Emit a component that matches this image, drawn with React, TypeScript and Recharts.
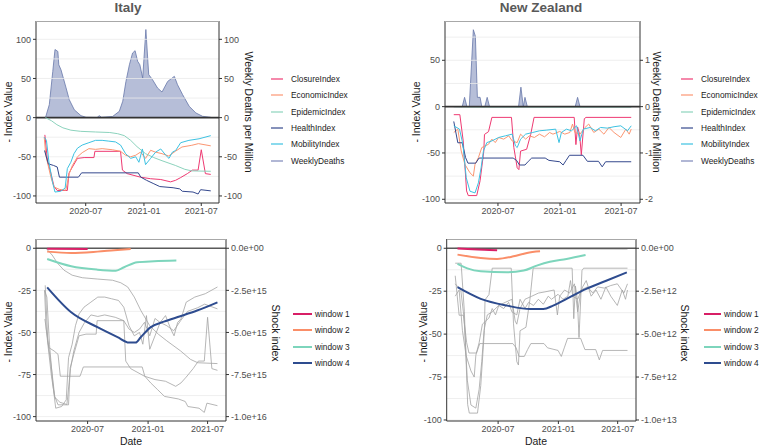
import React from "react";
import { ComposedChart, Line, Area, XAxis, YAxis, ReferenceLine } from "recharts";

type Pt = [string, number];

// ---- Italy indices (Index Value) ----
const itClosure: Pt[] = [
  ["2020-02-23", -22], ["2020-03-02", -55], ["2020-03-13", -71], ["2020-03-23", -88], ["2020-04-02", -93],
  ["2020-05-04", -93], ["2020-05-09", -71], ["2020-05-20", -63], ["2020-06-05", -52], ["2020-06-26", -51],
  ["2020-07-27", -51], ["2020-07-30", -43], ["2020-10-19", -43], ["2020-10-25", -67], ["2020-11-09", -71.5],
  ["2020-12-21", -76], ["2021-01-22", -78], ["2021-02-23", -79], ["2021-03-26", -82], ["2021-04-11", -80],
  ["2021-04-27", -76.5], ["2021-05-18", -71.5], ["2021-06-03", -67], ["2021-06-21", -67], ["2021-07-01", -41],
  ["2021-07-14", -71.5], ["2021-07-31", -72.5],
];
const itEconomic: Pt[] = [
  ["2020-02-21", -25], ["2020-02-26", -48], ["2020-03-13", -76], ["2020-03-23", -88.5], ["2020-04-08", -91.5],
  ["2020-04-29", -92.8], ["2020-05-10", -71.5], ["2020-05-20", -61], ["2020-06-05", -50], ["2020-06-20", -44.7],
  ["2020-07-11", -39.6], ["2020-08-01", -40.5], ["2020-08-22", -39.6], ["2020-09-23", -41], ["2020-10-19", -43],
  ["2020-11-04", -48], ["2020-11-20", -50], ["2020-12-06", -48], ["2020-12-21", -44], ["2021-01-06", -52],
  ["2021-01-22", -41.7], ["2021-02-06", -44], ["2021-02-27", -46], ["2021-03-20", -49], ["2021-04-10", -43],
  ["2021-05-01", -37.5], ["2021-06-01", -35.3], ["2021-06-22", -33.2], ["2021-07-31", -36],
];
const itEpidemic: Pt[] = [
  ["2020-02-25", 0], ["2020-03-15", -4], ["2020-04-01", -9], ["2020-04-20", -13], ["2020-05-15", -16],
  ["2020-06-15", -17.5], ["2020-08-01", -18.3], ["2020-09-15", -19], ["2020-10-10", -20.5], ["2020-10-31", -23],
  ["2020-11-20", -29], ["2020-12-10", -37], ["2021-01-06", -46], ["2021-02-01", -51], ["2021-02-27", -55],
  ["2021-04-10", -61], ["2021-05-10", -66], ["2021-06-01", -68], ["2021-07-31", -68.5],
];
const itHealth: Pt[] = [
  ["2020-02-22", -42], ["2020-03-05", -59], ["2020-03-21", -61], ["2020-04-02", -63], ["2020-04-09", -76],
  ["2020-06-08", -76], ["2020-06-18", -70.5], ["2020-12-14", -70.5], ["2020-12-22", -76], ["2021-01-09", -80],
  ["2021-01-30", -84], ["2021-02-20", -88], ["2021-04-03", -89.5], ["2021-04-24", -91], ["2021-05-02", -94],
  ["2021-06-05", -95], ["2021-06-21", -97.5], ["2021-06-29", -92], ["2021-07-31", -93.5],
];
const itMobility: Pt[] = [
  ["2020-02-21", -25], ["2020-02-28", -29], ["2020-03-07", -57], ["2020-03-18", -82], ["2020-03-26", -95],
  ["2020-04-13", -94], ["2020-04-27", -90], ["2020-05-04", -65], ["2020-05-15", -57], ["2020-05-25", -46],
  ["2020-06-05", -39], ["2020-06-20", -35], ["2020-07-11", -32], ["2020-08-01", -29], ["2020-08-22", -29],
  ["2020-09-12", -30], ["2020-10-03", -31], ["2020-10-19", -35], ["2020-11-04", -46], ["2020-11-20", -52],
  ["2020-12-06", -50], ["2020-12-16", -57], ["2020-12-27", -40], ["2021-01-06", -60], ["2021-01-22", -52],
  ["2021-02-07", -44], ["2021-02-23", -40], ["2021-03-11", -48], ["2021-03-21", -52], ["2021-04-01", -44],
  ["2021-04-11", -42], ["2021-04-27", -32], ["2021-05-23", -29], ["2021-06-24", -27], ["2021-07-31", -23],
];
// weekly deaths per million
const itDeaths: Pt[] = [
  ["2020-02-25", 0], ["2020-03-08", 16.6], ["2020-03-19", 59], ["2020-03-26", 87], ["2020-04-04", 84.5],
  ["2020-04-07", 67.5], ["2020-04-14", 61], ["2020-04-30", 38], ["2020-05-10", 23], ["2020-05-26", 10],
  ["2020-06-16", 2.5], ["2020-07-02", 0.5], ["2020-08-06", 0.3], ["2020-08-13", 2.5], ["2020-08-20", 0.5],
  ["2020-09-24", 1.5], ["2020-10-15", 8], ["2020-10-26", 21], ["2020-11-05", 46], ["2020-11-16", 67.5],
  ["2020-11-26", 82.5], ["2020-12-04", 85.5], ["2020-12-12", 72], ["2020-12-19", 67.5], ["2020-12-28", 50.5],
  ["2021-01-07", 112.5], ["2021-01-16", 55], ["2021-01-28", 48.5], ["2021-02-13", 37.8], ["2021-02-27", 32.7],
  ["2021-03-17", 46.3], ["2021-04-07", 52.7], ["2021-04-17", 42], ["2021-05-03", 29.4], ["2021-05-24", 14.4],
  ["2021-06-14", 6], ["2021-07-05", 1.7], ["2021-07-31", 0.4],
];

// ---- New Zealand indices ----
const nzClosure: Pt[] = [
  ["2020-02-21", -8.7], ["2020-03-10", -8.7], ["2020-03-20", -37], ["2020-03-30", -91], ["2020-04-04", -96],
  ["2020-04-29", -96], ["2020-05-09", -80], ["2020-05-20", -48], ["2020-05-22", -30], ["2020-06-03", -27],
  ["2020-06-13", -11.6], ["2020-08-10", -11.6], ["2020-08-17", -44], ["2020-08-27", -66], ["2020-09-01", -68],
  ["2020-09-06", -48], ["2020-09-24", -46], ["2020-10-06", -30], ["2020-10-16", -11.6], ["2021-02-12", -11.6],
  ["2021-02-17", -41], ["2021-02-22", -22], ["2021-02-28", -30], ["2021-03-05", -52], ["2021-03-14", -13],
  ["2021-03-19", -11.6], ["2021-07-31", -11.6],
];
const nzEconomic: Pt[] = [
  ["2020-02-21", -27.9], ["2020-03-04", -24.3], ["2020-03-14", -47.8], ["2020-03-25", -62.3], ["2020-04-09", -71.4],
  ["2020-04-19", -75], ["2020-04-24", -62.3], ["2020-05-04", -55], ["2020-05-14", -44.2], ["2020-05-24", -42.4],
  ["2020-06-03", -40.6], ["2020-06-13", -35.1], ["2020-06-23", -38.8], ["2020-07-03", -33.3], ["2020-07-18", -35.1],
  ["2020-08-02", -31.5], ["2020-08-12", -37], ["2020-08-27", -38.8], ["2020-09-06", -29.7], ["2020-09-21", -35.1],
  ["2020-10-02", -31.5], ["2020-10-17", -33.3], ["2020-11-01", -29.7], ["2020-11-16", -32.6], ["2020-12-01", -27.9],
  ["2020-12-11", -29.7], ["2020-12-31", -26.8], ["2021-01-15", -29.7], ["2021-01-30", -27.9], ["2021-02-07", -18.8],
  ["2021-02-14", -27.9], ["2021-03-01", -29.7], ["2021-03-16", -22.5], ["2021-03-27", -18.8], ["2021-04-11", -27.9],
  ["2021-04-26", -24.3], ["2021-05-11", -29.7], ["2021-05-26", -22.5], ["2021-06-10", -27.9], ["2021-06-30", -33.3],
  ["2021-07-15", -24.3], ["2021-07-25", -29.7], ["2021-07-31", -24.3],
];
const nzEpidemic: Pt[] = [
  ["2020-02-21", 0], ["2020-04-15", -0.4], ["2021-07-31", -0.5],
];
const nzHealth: Pt[] = [
  ["2020-02-21", -16], ["2020-03-04", -39], ["2020-03-17", -39], ["2020-03-27", -55], ["2020-04-03", -61],
  ["2020-04-26", -61], ["2020-05-06", -55.5], ["2020-08-15", -55.5], ["2020-08-25", -58], ["2020-09-03", -63],
  ["2020-09-19", -63], ["2020-09-29", -59], ["2020-10-09", -55.5], ["2020-11-18", -55.5], ["2020-11-29", -58],
  ["2020-12-31", -59.5], ["2021-01-10", -63], ["2021-01-19", -58], ["2021-01-29", -52.5], ["2021-03-10", -52.5],
  ["2021-03-23", -59], ["2021-04-25", -59], ["2021-05-06", -65], ["2021-05-16", -59.5], ["2021-07-31", -59.5],
];
const nzMobility: Pt[] = [
  ["2020-02-21", -20.7], ["2020-03-09", -24.3], ["2020-03-19", -40.6], ["2020-03-29", -76.8], ["2020-04-09", -91.3],
  ["2020-04-24", -93.1], ["2020-05-04", -82.2], ["2020-05-12", -66], ["2020-05-19", -47.8], ["2020-05-29", -38.8],
  ["2020-06-13", -37], ["2020-07-03", -33.3], ["2020-07-23", -31.5], ["2020-08-12", -29.7], ["2020-08-22", -42.4],
  ["2020-08-27", -44.2], ["2020-09-06", -35.1], ["2020-09-21", -29.7], ["2020-10-12", -27.9], ["2020-11-01", -26.1],
  ["2020-11-21", -25.4], ["2020-12-19", -24.3], ["2020-12-29", -38.8], ["2021-01-05", -27.9], ["2021-01-20", -24.3],
  ["2021-02-04", -26.1], ["2021-02-19", -20.7], ["2021-03-01", -37], ["2021-03-11", -24.3], ["2021-03-31", -22.5],
  ["2021-04-16", -26.1], ["2021-05-01", -22.5], ["2021-05-21", -23.2], ["2021-06-10", -21.7], ["2021-06-30", -20.7],
  ["2021-07-20", -26.1], ["2021-07-31", -20.7],
];
const nzDeaths: Pt[] = [
  ["2020-02-21", 0], ["2020-03-17", 0], ["2020-03-24", 0.2], ["2020-03-31", 0], ["2020-04-07", 0],
  ["2020-04-19", 1.66], ["2020-04-25", 1.52], ["2020-05-01", 0.2], ["2020-05-09", 0.2], ["2020-05-14", 0],
  ["2020-05-23", 0], ["2020-05-30", 0.2], ["2020-06-06", 0], ["2020-08-31", 0], ["2020-09-07", 0.42],
  ["2020-09-14", 0], ["2020-09-19", 0.2], ["2020-09-26", 0], ["2021-02-15", 0], ["2021-02-22", 0.2],
  ["2021-03-01", 0], ["2021-07-31", 0],
];

// ---- Shock index windows ----
const itWin1: Pt[] = [["2020-02-29", -3e13], ["2020-07-01", -4e13]];
const itWin2: Pt[] = [["2020-02-29", -2.0e14], ["2020-05-12", -2.8e14], ["2020-07-31", -2.0e14], ["2020-09-20", -1.2e14], ["2020-11-09", -0.5e14]];
const itWin3: Pt[] = [
  ["2020-02-29", -0.64e15], ["2020-05-12", -1.07e15], ["2020-07-31", -1.27e15], ["2020-09-25", -1.33e15],
  ["2020-10-20", -1.13e15], ["2020-11-29", -0.83e15], ["2021-01-19", -0.77e15], ["2021-03-28", -0.73e15],
];
const itWin4: Pt[] = [
  ["2020-02-29", -2.32e15], ["2020-05-12", -3.8e15], ["2020-07-31", -4.69e15], ["2020-09-30", -5.28e15],
  ["2020-11-04", -5.6e15], ["2020-11-24", -5.6e15], ["2020-12-09", -5.3e15], ["2021-01-08", -4.7e15],
  ["2021-02-18", -4.36e15], ["2021-04-09", -4.04e15], ["2021-05-30", -3.7e15], ["2021-07-31", -3.21e15],
];
const nzWin1: Pt[] = [["2020-02-28", -1e10], ["2020-04-15", -5e10], ["2020-05-20", -9e10], ["2020-06-28", -1.2e11]];
const nzWin2: Pt[] = [["2020-02-28", -3.7e11], ["2020-05-09", -5.7e11], ["2020-06-28", -6.2e11], ["2020-08-17", -4.7e11], ["2020-09-27", -2.7e11], ["2020-11-06", -1.8e11]];
const nzWin3: Pt[] = [
  ["2020-02-28", -9.1e11], ["2020-03-29", -11.7e11], ["2020-05-09", -13.4e11], ["2020-07-28", -14e11],
  ["2020-09-17", -13e11], ["2020-10-27", -10.1e11], ["2020-12-06", -7.8e11], ["2021-01-26", -6.2e11], ["2021-03-25", -3.9e11],
];
const nzWin4: Pt[] = [
  ["2020-02-28", -2.27e12], ["2020-05-09", -2.95e12], ["2020-07-28", -3.34e12], ["2020-10-07", -3.54e12],
  ["2020-11-16", -3.54e12], ["2020-12-16", -3.34e12], ["2021-01-26", -2.95e12], ["2021-03-27", -2.37e12],
  ["2021-05-27", -1.89e12], ["2021-07-29", -1.4e12],
];

const indexNames = ["ClosureIndex", "EconomicIndex", "EpidemicIndex", "HealthIndex", "MobilityIndex", "WeeklyDeaths"];
const indexColors = ["#EE3A72", "#FB9672", "#8CD3BD", "#34488D", "#3DC2E2", "#7E88BA"];
const windowNames = ["window 1", "window 2", "window 3", "window 4"];
const windowColors = ["#D81F66", "#FA8E68", "#7DD5BC", "#2E4C8F"];
const dateTicks = ["2020-07-01", "2021-01-01", "2021-07-01"];

const FONT = '"Liberation Sans", Arial, Helvetica, sans-serif';
const TICK = { fontSize: 9, fill: "#4d4d4d", fontFamily: FONT };
const X_DOMAIN = [Date.parse("2020-01-26"), Date.parse("2021-08-26")];
const LEFT_W = 36;
const X_H = 20;

const pts = (s: Pt[]) => s.map(([d, v]) => ({ t: Date.parse(d), v }));
const fmtDate = (v: number) => {
  const d = new Date(v);
  return `${d.getUTCFullYear()}-${String(d.getUTCMonth() + 1).padStart(2, "0")}`;
};
const sci = (v: number) => {
  if (v === 0) return "0.0e+00";
  const e = Math.floor(Math.log10(Math.abs(v)) + 1e-9);
  return `${(v / Math.pow(10, e)).toFixed(1)}e+${String(e).padStart(2, "0")}`;
};

type PanelProps = {
  x: number; y: number; w: number; h: number;
  margin: { top: number; right: number; bottom: number; left: number };
  rWidth: number;
  yDomain: number[]; yTicks: number[]; grid: number[];
  rDomain: number[]; rTicks: number[]; rFmt?: (v: number) => string;
  children: React.ReactNode;
};

function Panel(p: PanelProps) {
  const m = p.margin;
  // panel border, like ggplot's panel.border
  const bx = m.left + LEFT_W;
  const bw = p.w - m.left - LEFT_W - m.right - p.rWidth;
  const bh = p.h - m.top - m.bottom - X_H;
  return (
    <div style={{ position: "absolute", left: p.x, top: p.y }}>
      <ComposedChart width={p.w} height={p.h} margin={m}>
        <XAxis type="number" dataKey="t" domain={X_DOMAIN} allowDataOverflow ticks={dateTicks.map((d) => Date.parse(d))}
          tickFormatter={fmtDate} tick={TICK} tickSize={3} tickLine={{ stroke: "#333" }} axisLine={{ stroke: "#333" }} height={X_H} interval={0} />
        <YAxis yAxisId="l" type="number" domain={p.yDomain} allowDataOverflow ticks={p.yTicks} interval={0} tick={TICK}
          tickSize={3} tickLine={{ stroke: "#333" }} axisLine={{ stroke: "#333" }} width={LEFT_W} />
        <YAxis yAxisId="r" orientation="right" type="number" domain={p.rDomain} allowDataOverflow ticks={p.rTicks} interval={0}
          tickFormatter={p.rFmt} tick={TICK} tickSize={3} tickLine={{ stroke: "#333" }} axisLine={{ stroke: "#333" }} width={p.rWidth} />
        {p.grid.map((g) => (
          <ReferenceLine key={"g" + g} yAxisId="l" y={g} stroke="#ebebeb" strokeWidth={0.8} />
        ))}
        {p.children}
      </ComposedChart>
      <div style={{
        position: "absolute", left: bx, top: m.top, width: bw, height: bh, boxSizing: "border-box",
        borderTop: "1.2px solid #a8a8a8", pointerEvents: "none",
      }} />
    </div>
  );
}

const idxLine = (key: string, s: Pt[], color: string, width = 1) => (
  <Line key={key} data={pts(s)} dataKey="v" yAxisId="l" type="linear" stroke={color} strokeWidth={width}
    dot={false} isAnimationActive={false} />
);
const winLine = (key: string, s: Pt[], color: string) => (
  <Line key={key} data={pts(s)} dataKey="v" yAxisId="r" type="monotone" stroke={color} strokeWidth={2}
    dot={false} isAnimationActive={false} />
);
const deathArea = (s: Pt[]) => (
  <Area key="deaths" data={pts(s)} dataKey="v" yAxisId="r" type="linear" stroke="#6777AA" strokeWidth={0.8}
    fill="#B6BED8" fillOpacity={1} dot={false} isAnimationActive={false} />
);

function Label({ x, y, text, rot = 0, size = 10.5, bold = false, color = "#1a1a1a" }:
  { x: number; y: number; text: string; rot?: number; size?: number; bold?: boolean; color?: string }) {
  return (
    <div style={{
      position: "absolute", left: x, top: y, transform: `translate(-50%, -50%) rotate(${rot}deg)`,
      whiteSpace: "nowrap", fontSize: size, fontWeight: bold ? 700 : 400, color, fontFamily: FONT, lineHeight: 1,
    }}>{text}</div>
  );
}

function Legend({ x, y, step, names, colors, keyW, gap, width }:
  { x: number; y: number; step: number; names: string[]; colors: string[]; keyW: number; gap: number; width: number }) {
  return (
    <>
      {names.map((n, i) => (
        <div key={n} style={{ position: "absolute", left: x, top: y + i * step - 6, height: 12, display: "flex", alignItems: "center" }}>
          <svg width={keyW} height={12} style={{ display: "block" }}>
            <line x1={0} x2={keyW} y1={6} y2={6} stroke={colors[i]} strokeWidth={width} />
          </svg>
          <span style={{ marginLeft: gap, fontSize: 8.3, color: "#1a1a1a", fontFamily: FONT, whiteSpace: "nowrap" }}>{n}</span>
        </div>
      ))}
    </>
  );
}

const topGridIt = [100, 75, 50, 25, 0, -25, -50, -75, -100];
const topGridNz = [75, 50, 25, 0, -25, -50, -75, -100];
const botGrid = [0, -12.5, -25, -37.5, -50, -62.5, -75, -87.5, -100];
const botTicks = [0, -25, -50, -75, -100];

export default function App() {
  const itSeries = [itClosure, itEconomic, itEpidemic, itHealth, itMobility];
  const nzSeries = [nzClosure, nzEconomic, nzEpidemic, nzHealth, nzMobility];
  return (
    <div style={{ position: "absolute", left: 0, top: 0, width: 762, height: 447, background: "#fff", overflow: "hidden", fontFamily: FONT }}>
      <Label x={128} y={8} text="Italy" size={13.5} bold color="#595959" />
      <Label x={541} y={8} text="New Zealand" size={13.5} bold color="#595959" />

      {/* Italy top */}
      <Panel x={0} y={0} w={381} h={225} margin={{ top: 21, right: 122, bottom: 2, left: 0 }} rWidth={40}
        yDomain={[-109, 123.4]} yTicks={[100, 50, 0, -50, -100]} grid={topGridIt}
        rDomain={[-109, 123.4]} rTicks={[100, 50, 0, -50, -100]}>
        {[
          deathArea(itDeaths),
          <ReferenceLine key="z" yAxisId="l" y={0} stroke="#333" strokeWidth={1.6} />,
          ...itSeries.map((s, i) => idxLine("s" + i, s, indexColors[i])),
        ]}
      </Panel>
      <Label x={8} y={112} text="- Index Value" rot={-90} />
      <Label x={249} y={112} text="Weekly Deaths per Million" rot={90} />
      <Legend x={271} y={79} step={16.35} names={indexNames} colors={indexColors} keyW={12} gap={8} width={1.2} />

      {/* New Zealand top */}
      <Panel x={381} y={0} w={381} h={225} margin={{ top: 21, right: 82, bottom: 2, left: 28 }} rWidth={40}
        yDomain={[-104, 92.4]} yTicks={[50, 0, -50, -100]} grid={topGridNz}
        rDomain={[-2.08, 1.848]} rTicks={[1, 0, -1, -2]}>
        {[
          deathArea(nzDeaths),
          ...nzSeries.map((s, i) => idxLine("s" + i, s, indexColors[i])),
          <ReferenceLine key="z" yAxisId="l" y={0} stroke="#333" strokeWidth={1.6} />,
        ]}
      </Panel>
      <Label x={416} y={112} text="- Index Value" rot={-90} />
      <Label x={657} y={112} text="Weekly Deaths per Million" rot={90} />
      <Legend x={681} y={79} step={16.35} names={indexNames} colors={indexColors} keyW={12} gap={8} width={1.2} />

      {/* Italy bottom */}
      <Panel x={0} y={220} w={381} h={227} margin={{ top: 19, right: 95, bottom: 6, left: 0 }} rWidth={60}
        yDomain={[-102.6, 5.5]} yTicks={botTicks} grid={botGrid}
        rDomain={[-1.026e16, 5.5e14]} rTicks={[0, -2.5e15, -5e15, -7.5e15, -1e16]} rFmt={sci}>
        {[
          ...itSeries.map((s, i) => idxLine("g" + i, s, "#a3a3a3", 0.8)),
          <ReferenceLine key="z" yAxisId="l" y={0} stroke="#5a5a5a" strokeWidth={1.5} />,
          winLine("w1", itWin1, windowColors[0]),
          winLine("w2", itWin2, windowColors[1]),
          winLine("w3", itWin3, windowColors[2]),
          winLine("w4", itWin4, windowColors[3]),
        ]}
      </Panel>
      <Label x={8} y={332} text="- Index Value" rot={-90} />
      <Label x={276} y={333} text="Shock index" rot={90} />
      <Label x={131} y={441} text="Date" />
      <Legend x={293} y={314} step={16.45} names={windowNames} colors={windowColors} keyW={19} gap={3} width={2} />

      {/* New Zealand bottom */}
      <Panel x={381} y={220} w={381} h={227} margin={{ top: 19, right: 66, bottom: 6, left: 29.7 }} rWidth={60}
        yDomain={[-100.6, 5.4]} yTicks={botTicks} grid={botGrid}
        rDomain={[-1.006e13, 5.4e11]} rTicks={[0, -2.5e12, -5e12, -7.5e12, -1e13]} rFmt={sci}>
        {[
          ...nzSeries.map((s, i) => idxLine("g" + i, s, "#a3a3a3", 0.8)),
          <ReferenceLine key="z" yAxisId="l" y={0} stroke="#5a5a5a" strokeWidth={1.5} />,
          winLine("w1", nzWin1, windowColors[0]),
          winLine("w2", nzWin2, windowColors[1]),
          winLine("w3", nzWin3, windowColors[2]),
          winLine("w4", nzWin4, windowColors[3]),
        ]}
      </Panel>
      <Label x={423} y={332} text="- Index Value" rot={-90} />
      <Label x={685} y={333} text="Shock index" rot={90} />
      <Label x={536} y={441} text="Date" />
      <Legend x={704} y={314} step={16.45} names={windowNames} colors={windowColors} keyW={17} gap={3} width={2} />
    </div>
  );
}
